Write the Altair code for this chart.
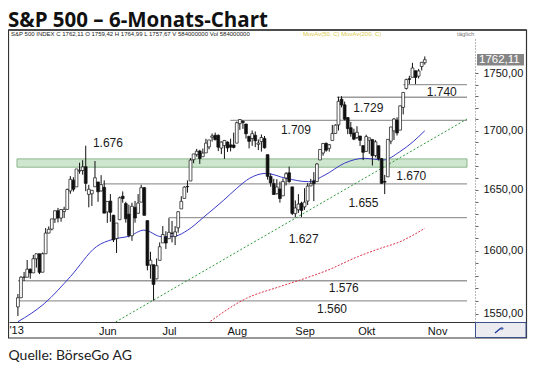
import altair as alt
import pandas as pd

# ---- daily OHLC (trading-day index 0 = 22 Apr 2013 ... 132 = 28 Oct 2013) ----
opens = [1555.3,1562.5,1578.8,1578.8,1585.2,1582.3,1593.6,1597.6,1582.8,1597.6,
         1614.4,1617.6,1625.9,1632.7,1626.7,1632.1,1633.8,1649.1,1658.1,1652.5,
         1665.7,1666.2,1669.4,1646.2,1646.7,1652.6,1656.6,1649.1,1652.1,1631.7,
         1640.7,1629.0,1609.9,1625.3,1644.7,1638.6,1629.9,1612.2,1635.5,1630.6,
         1639.8,1651.8,1624.6,1588.6,1588.8,1577.5,1592.3,1606.4,1611.1,1609.8,
         1614.3,1611.5,1618.7,1634.2,1642.9,1652.9,1657.4,1675.3,1679.6,1682.7,
         1677.9,1681.1,1686.2,1694.4,1696.1,1696.1,1685.2,1687.3,1690.3,1687.9,
         1687.8,1689.4,1706.1,1708.0,1705.8,1695.3,1693.4,1696.1,1688.4,1690.7,
         1693.4,1679.6,1661.2,1655.3,1646.8,1650.7,1645.0,1659.9,1664.3,1652.5,
         1630.3,1633.5,1638.9,1635.9,1640.7,1653.3,1657.4,1656.9,1675.1,1681.0,
         1689.2,1685.0,1691.7,1697.7,1705.0,1727.3,1722.4,1711.4,1702.6,1698.0,
         1694.1,1695.5,1687.3,1682.4,1691.9,1692.4,1678.8,1687.2,1676.2,1657.0,
         1660.9,1691.1,1699.9,1709.2,1700.5,1720.2,1736.7,1745.2,1746.5,1752.3,
         1747.5,1756.0,1759.4]
highs = [1565.5,1579.6,1583.0,1592.6,1585.8,1596.7,1597.6,1597.6,1598.6,1618.5,
         1619.8,1626.0,1632.8,1635.0,1633.7,1636.0,1651.1,1661.5,1660.5,1667.5,
         1672.8,1674.9,1687.2,1654.2,1649.8,1674.2,1656.6,1662.3,1658.0,1640.4,
         1646.5,1629.3,1622.6,1644.4,1648.7,1640.1,1637.7,1639.3,1640.8,1646.5,
         1654.2,1652.4,1624.6,1599.2,1588.8,1593.8,1606.8,1620.1,1615.9,1626.6,
         1624.3,1620.1,1632.1,1644.7,1653.0,1657.9,1676.6,1680.2,1684.5,1683.7,
         1684.8,1693.1,1692.1,1697.6,1698.4,1696.8,1690.9,1691.9,1690.9,1693.2,
         1698.4,1707.9,1709.7,1709.2,1705.8,1695.3,1700.2,1699.4,1692.5,1696.8,
         1695.5,1679.6,1663.6,1659.2,1658.9,1656.9,1659.6,1664.9,1669.5,1652.5,
         1641.2,1646.4,1640.1,1651.4,1655.7,1659.2,1664.8,1672.4,1684.1,1689.1,
         1690.0,1688.7,1705.0,1705.5,1729.4,1729.9,1725.2,1711.4,1707.6,1701.7,
         1703.9,1695.5,1687.3,1696.6,1693.9,1692.4,1691.9,1687.2,1676.8,1662.5,
         1692.6,1703.4,1711.0,1711.6,1721.8,1733.4,1745.3,1747.8,1759.3,1752.3,
         1753.9,1759.8,1765.0]
lows = [1548.2,1562.5,1575.8,1578.8,1577.6,1582.3,1586.5,1581.3,1582.8,1597.6,
        1614.2,1616.6,1622.7,1623.1,1623.7,1626.7,1633.8,1646.7,1648.6,1652.5,
        1663.5,1662.7,1648.9,1635.5,1636.6,1652.6,1640.1,1648.6,1630.7,1622.7,
        1623.6,1607.1,1598.2,1625.3,1639.3,1622.9,1610.9,1608.1,1622.9,1630.3,
        1639.8,1628.9,1584.3,1577.7,1560.3,1577.1,1592.3,1606.4,1601.5,1609.8,
        1606.8,1604.6,1614.7,1634.2,1642.9,1647.7,1657.4,1672.3,1677.9,1671.8,
        1677.9,1681.1,1684.1,1690.7,1691.7,1682.6,1680.1,1676.0,1681.9,1682.4,
        1684.9,1689.4,1700.7,1701.6,1693.3,1684.9,1687.1,1686.0,1683.5,1682.2,
        1684.8,1658.6,1652.6,1646.1,1646.1,1639.4,1645.0,1653.6,1656.0,1629.1,
        1627.5,1630.9,1627.5,1633.4,1637.4,1653.1,1640.6,1656.9,1675.1,1678.7,
        1682.0,1682.2,1691.7,1697.7,1700.2,1720.2,1708.9,1697.1,1694.9,1691.9,
        1693.1,1687.0,1675.0,1682.1,1680.3,1670.4,1677.3,1674.7,1655.0,1646.5,
        1660.9,1688.5,1692.1,1695.9,1700.5,1714.1,1735.7,1740.6,1746.5,1740.5,
        1745.5,1752.5,1757.7]
closes = [1562.5,1578.8,1578.8,1585.2,1582.2,1593.6,1597.6,1582.7,1597.6,1614.4,
          1617.5,1626.0,1632.7,1626.7,1633.7,1633.8,1650.3,1658.8,1650.5,1667.5,
          1666.3,1669.2,1655.4,1650.5,1649.6,1660.1,1648.4,1654.4,1630.7,1640.4,
          1631.4,1608.9,1622.6,1643.4,1642.8,1626.1,1612.5,1636.4,1626.7,1639.0,
          1651.8,1628.9,1588.2,1592.4,1573.1,1588.0,1603.3,1613.2,1606.3,1615.0,
          1614.1,1615.4,1631.9,1640.5,1652.3,1652.6,1675.0,1680.2,1682.5,1676.3,
          1680.9,1689.4,1692.1,1695.5,1692.4,1685.9,1690.3,1691.7,1685.3,1686.0,
          1685.7,1706.9,1709.7,1707.1,1697.4,1690.9,1697.5,1691.4,1689.5,1694.2,
          1685.4,1661.3,1655.8,1646.1,1652.4,1642.8,1657.0,1663.5,1656.8,1630.5,
          1635.0,1638.2,1633.0,1639.8,1653.1,1655.1,1655.2,1671.7,1684.0,1689.1,
          1683.4,1688.0,1697.6,1704.8,1725.5,1722.3,1709.9,1701.8,1697.4,1692.8,
          1698.7,1691.8,1681.6,1695.0,1693.9,1678.7,1690.5,1676.1,1655.5,1656.4,
          1692.6,1703.2,1710.1,1698.1,1721.5,1733.2,1744.5,1744.7,1754.7,1746.4,
          1752.1,1759.8,1762.1]

# ---- moving averages ----
ma50_idx = [0, 8.6, 17, 25.5, 30.8, 36.1, 40.9, 46.7, 50.9, 55.1, 60.4, 66.8,
            71, 75.2, 80.5, 86.9, 94.3, 99.6, 105.9, 112.3, 118.6, 123.9, 128.2, 132]
ma50_val = [1543.7, 1558.0, 1579.2, 1603.4, 1609.3, 1611.9, 1616.8, 1611.4,
            1611.9, 1616.8, 1627.7, 1641.5, 1651.3, 1659.7, 1663.8, 1659.7,
            1656.8, 1662.4, 1672.3, 1676.5, 1675.1, 1682.1, 1690.6, 1700.0]
ma200_idx = [61.5, 74.2, 84.8, 93.2, 100.6, 110.2, 117.6, 123.9, 132]
ma200_val = [1542.4, 1562.1, 1571.2, 1577.9, 1584.5, 1595.2, 1602.0, 1607.3, 1618.3]

# ---- trend line, support / resistance ----
trend_idx = [31.7, 145.7]
trend_val = [1543.5, 1710.1]
level_val = [1740, 1729, 1709, 1655, 1627, 1576, 1560]
level_start = [125, 103.5, 68.9, 27.6, 48.9, 0, 0]
level_end = 145.7
zone_lo, zone_hi = 1669, 1676
zone_start, zone_end = -0.3, 145.7

label_text = ["1.676", "1.709", "1.729", "1.740", "1.670", "1.655", "1.627", "1.576", "1.560"]
label_idx = [29.2, 90.2, 113.7, 137.5, 127.6, 112.1, 92.7, 105.7, 101.9]
label_val = [1689.5, 1700.7, 1719.6, 1733.6, 1661.6, 1639.0, 1609.5, 1570.1, 1553.7]

month_idx = [29, 49, 71, 93, 113, 136]
month_names = ["Jun", "Jul", "Aug", "Sep", "Okt", "Nov"]
y_ticks = list(range(1550, 1751, 10))
last_price = 1762.11

# ------------------------------------------------------------------
FONT = "Liberation Sans"
xs = alt.Scale(domain=[-1.27, 146.67], nice=False, zero=False)
ys = alt.Scale(type="log", domain=[1543.5, 1781.5], nice=False)

n = len(closes)
df = pd.DataFrame({"i": list(range(n)), "o": opens, "h": highs, "l": lows, "c": closes})

month_expr = " : ".join(f"datum.value == {v} ? '{m}'" for v, m in zip(month_idx, month_names)) + " : ''"

XA = alt.Axis(values=month_idx, labelExpr=month_expr, title=None, grid=False,
              ticks=False, domainColor="#333", domainWidth=1, labelFont=FONT,
              labelFontSize=11, labelColor="#111", labelPadding=3,
              labelBaseline="top", labelFlush=False, labelOverlap=False)
YA = alt.Axis(orient="right", values=y_ticks, title=None, grid=False,
              labelExpr="datum.value % 50 == 0 ? replace(format(datum.value, '.2f'), '.', ',') : ''",
              tickSize=3, tickColor="#666", tickWidth=1, domainColor="#777",
              domainDash=[1, 2], labelFont=FONT, labelFontSize=11, labelColor="#111",
              labelPadding=5, labelOverlap=False, labelFlush=False)


def X(f):
    return alt.X(f, scale=xs, axis=XA)


def Y(f):
    return alt.Y(f, scale=ys, axis=YA)


one = pd.DataFrame({"a": [0]})

zone = alt.Chart(pd.DataFrame({"x1": [zone_start], "x2": [zone_end], "lo": [zone_lo], "hi": [zone_hi]})).mark_rect(
    fill="#cde6cd", stroke="#8db58d", strokeWidth=1).encode(
    x=X("x1:Q"), x2="x2:Q", y=Y("lo:Q"), y2="hi:Q")

levels = alt.Chart(pd.DataFrame({"v": level_val, "s": level_start, "e": [level_end] * len(level_val)})).mark_rule(
    color="#9a9a9a", strokeWidth=1.3).encode(
    x=X("s:Q"), x2="e:Q", y=Y("v:Q"))

trend = alt.Chart(pd.DataFrame({"i": trend_idx, "v": trend_val})).mark_line(
    color="#2f9a3a", strokeWidth=1, strokeDash=[2, 2], clip=True).encode(
    x=X("i:Q"), y=Y("v:Q"))

ma50 = alt.Chart(pd.DataFrame({"i": ma50_idx, "v": ma50_val})).mark_line(
    color="#3a3ac8", strokeWidth=1, clip=True, interpolate="monotone").encode(
    x=X("i:Q"), y=Y("v:Q"))

ma200 = alt.Chart(pd.DataFrame({"i": ma200_idx, "v": ma200_val})).mark_line(
    color="#e0304a", strokeWidth=1, strokeDash=[2, 1.5], clip=True, interpolate="monotone").encode(
    x=X("i:Q"), y=Y("v:Q"))

wick = alt.Chart(df).mark_rule(color="#111", strokeWidth=1, clip=True).encode(
    x=X("i:Q"), y=Y("l:Q"), y2="h:Q")

body = alt.Chart(df).mark_bar(width=2.8, stroke="#111", strokeWidth=0.7, clip=True).encode(
    x=X("i:Q"), y=Y("o:Q"), y2="c:Q",
    fill=alt.condition("datum.c >= datum.o", alt.value("white"), alt.value("#111")))

labels = alt.Chart(pd.DataFrame({"t": label_text, "i": label_idx, "v": label_val})).mark_text(
    font=FONT, fontSize=12, color="#1a1a1a").encode(
    x=X("i:Q"), y=Y("v:Q"), text="t:N")

tag = alt.Chart(pd.DataFrame({"p": [last_price]})).mark_rule(color="#858585", strokeWidth=11.5).encode(
    x=alt.value(468), x2=alt.value(515), y=Y("p:Q"))
tag_txt = alt.Chart(pd.DataFrame({"p": [last_price], "t": ["1762,11"]})).mark_text(
    font=FONT, fontSize=11.5, color="white", align="left").encode(
    x=alt.value(470), y=Y("p:Q"), text="t:N")

frame = alt.Chart(one).mark_rect(fill=None, stroke="#333", strokeWidth=1.2).encode(
    x=alt.value(-0.5), x2=alt.value(517.5), y=alt.value(-8), y2=alt.value(300))
frame_top = alt.Chart(one).mark_rule(color="#333", strokeWidth=1.6).encode(
    x=alt.value(-0.5), x2=alt.value(517.5), y=alt.value(-8))
icon_box = alt.Chart(one).mark_rect(fill="#ececf0", stroke="#3b4f8c", strokeWidth=1).encode(
    x=alt.value(466.5), x2=alt.value(517), y=alt.value(284.5), y2=alt.value(299.5))
icon_pen = alt.Chart(one).mark_rule(color="#1f3a9a", strokeWidth=1.4).encode(
    x=alt.value(486), x2=alt.value(492), y=alt.value(295), y2=alt.value(290))
icon_tip = alt.Chart(one).mark_point(shape="diamond", filled=True, color="#1f3a9a", size=14).encode(
    x=alt.value(493), y=alt.value(290.5))

hdr1 = alt.Chart(one).mark_text(font=FONT, fontSize=6, color="#222", align="left", baseline="middle").encode(
    x=alt.value(2), y=alt.value(-4.3),
    text=alt.value("S&P 500 INDEX  C 1762,11  O 1759,42  H 1764,99  L 1757,67  V 584000000  Vol 584000000"))
hdr2 = alt.Chart(one).mark_text(font=FONT, fontSize=6, color="#d8c84a", align="left", baseline="middle").encode(
    x=alt.value(294), y=alt.value(-4.3), text=alt.value("MovAv(50, C)  MovAv(200, C)"))
hdr3 = alt.Chart(one).mark_text(font=FONT, fontSize=6, color="#777", align="left", baseline="middle").encode(
    x=alt.value(448), y=alt.value(-4.3), text=alt.value("täglich"))
yr = alt.Chart(one).mark_text(font=FONT, fontSize=11, color="#111", align="left", baseline="top").encode(
    x=alt.value(0.5), y=alt.value(287), text=alt.value("'13"))

title = alt.Chart(one).mark_text(font="Open Sans", fontSize=20.5, fontWeight="bold", color="#111",
                                 align="left", baseline="alphabetic").encode(
    x=alt.value(-1), y=alt.value(-11.5), text=alt.value("S&P 500 – 6-Monats-Chart"))
source = alt.Chart(one).mark_text(font="Lato", fontSize=14, color="#222",
                                  align="left", baseline="alphabetic").encode(
    x=alt.value(-0.5), y=alt.value(322), text=alt.value("Quelle: BörseGo AG"))

chart = alt.layer(
    zone, levels, trend, ma200, ma50, wick, body, labels, tag, tag_txt,
    frame, frame_top, icon_box, icon_pen, icon_tip,
    hdr1, hdr2, hdr3, yr, title, source
).properties(
    width=466, height=284,
    padding={"left": 1, "top": 30, "right": 57, "bottom": 45},
    autosize=alt.AutoSizeParams(type="none"),
    background="white"
).configure_view(stroke=None)

chart.save("out.html", embed_options={"renderer": "svg", "actions": False})
